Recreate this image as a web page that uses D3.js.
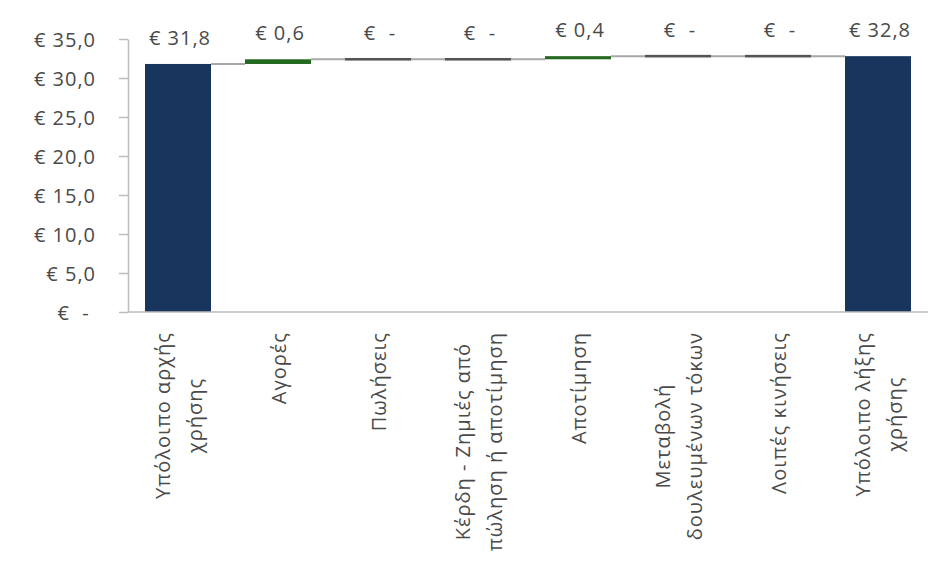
<!DOCTYPE html>
<html>
<head>
<meta charset="utf-8">
<script src="https://cdn.jsdelivr.net/npm/d3@7"></script>
<style>
  html, body { margin: 0; padding: 0; background: #fff; }
  svg text { font-family: "Open Sans", "DejaVu Sans", sans-serif; fill: #4a4a4a; letter-spacing: 1px; white-space: pre; }
</style>
</head>
<body>
<svg id="chart" width="942" height="576"></svg>
<script>
// Category labels, one array of wrapped lines per bar
const categoryLines = [
  ["Υπόλοιπο αρχής", "χρήσης"],
  ["Αγορές"],
  ["Πωλήσεις"],
  ["Κέρδη - Ζημιές από", "πώληση ή αποτίμηση"],
  ["Αποτίμηση"],
  ["Μεταβολή", "δουλευμένων τόκων"],
  ["Λοιπές κινήσεις"],
  ["Υπόλοιπο λήξης", "χρήσης"]
];
const categories = categoryLines.map(l => l.join(" "));
// Opening balance, movements, closing balance (€ millions)
const openingBalance = 31.8;
const movements = [0.6, 0, 0, 0.4, 0, 0];
const closingBalance = 32.8;
const yTicks = [0, 5, 10, 15, 20, 25, 30, 35];

const svg = d3.select("#chart");
const plotLeft = 128, plotRight = 928, plotTop = 39, plotBottom = 312;

const x = d3.scaleBand().domain(categories).range([plotLeft, plotRight])
  .paddingInner(0.34).paddingOuter(0.17);
const y = d3.scaleLinear().domain([0, 35]).range([plotBottom, plotTop]);

// Accounting-style euro format: zero shown as a dash
const fmt = v => v === 0 ? "€  -" : "€ " + d3.format(".1f")(v).replace(".", ",");

// Build waterfall segments
const bars = [];
bars.push({ cat: categories[0], start: 0, end: openingBalance, value: openingBalance, kind: "total" });
let running = openingBalance;
movements.forEach((m, i) => {
  bars.push({ cat: categories[i + 1], start: running, end: running + m, value: m, kind: m === 0 ? "zero" : "delta" });
  running += m;
});
bars.push({ cat: categories[7], start: 0, end: closingBalance, value: closingBalance, kind: "total" });

// Y axis
const yAxis = d3.axisLeft(y).tickValues(yTicks).tickSizeInner(9).tickSizeOuter(0).tickPadding(23)
  .tickFormat(v => v === 0 ? "€  - " : fmt(v));
const gy = svg.append("g").attr("transform", `translate(${plotLeft},0)`).call(yAxis);
gy.select(".domain").attr("stroke", "#bdbdbd").attr("stroke-width", 1.5);
gy.selectAll(".tick line").attr("stroke", "#bdbdbd").attr("stroke-width", 1.5);
gy.selectAll(".tick text").style("font-size", "20px").attr("fill", "#4a4a4a").attr("dy", "0.35em");

// Connectors between consecutive bars
const bw = x.bandwidth();
for (let i = 0; i < bars.length - 1; i++) {
  const lvl = bars[i].end;
  svg.append("line")
    .attr("x1", x(bars[i].cat) + bw).attr("x2", x(bars[i + 1].cat))
    .attr("y1", y(lvl)).attr("y2", y(lvl))
    .attr("stroke", "#a8a8a8").attr("stroke-width", 2);
}

// Bars
bars.forEach(b => {
  const y0 = y(Math.max(b.start, b.end)), y1 = y(Math.min(b.start, b.end));
  if (b.kind === "zero") {
    svg.append("rect").attr("x", x(b.cat)).attr("width", bw)
      .attr("y", y(b.end) - 1.3).attr("height", 2.6).attr("fill", "#555555");
  } else {
    svg.append("rect").attr("x", x(b.cat)).attr("width", bw)
      .attr("y", y0).attr("height", y1 - y0)
      .attr("fill", b.kind === "total" ? "#18365d" : "#23691f");
  }
});

// X axis line
svg.append("line").attr("x1", plotLeft).attr("x2", plotRight).attr("y1", plotBottom).attr("y2", plotBottom)
  .attr("stroke", "#bdbdbd").attr("stroke-width", 1.5);

// Value labels
bars.forEach(b => {
  svg.append("text")
    .attr("x", x(b.cat) + bw / 2 + 2)
    .attr("y", y(Math.max(b.start, b.end)) - 19)
    .attr("text-anchor", "middle")
    .style("font-size", "20px")
    .text(fmt(b.value));
});

// Rotated category labels
categories.forEach((c, i) => {
  const lines = categoryLines[i];
  const g = svg.append("g")
    .attr("transform", `translate(${x(c) + bw / 2},332) rotate(-90)`);
  const texts = lines.map((t, k) => g.append("text")
    .style("font-size", "20px")
    .attr("text-anchor", "middle")
    .attr("y", 8 + (k - (lines.length - 1) / 2) * 32)
    .text(t));
  const w = d3.max(texts, t => t.node().getComputedTextLength());
  texts.forEach(t => t.attr("x", -w / 2));
});
</script>
</body>
</html>
